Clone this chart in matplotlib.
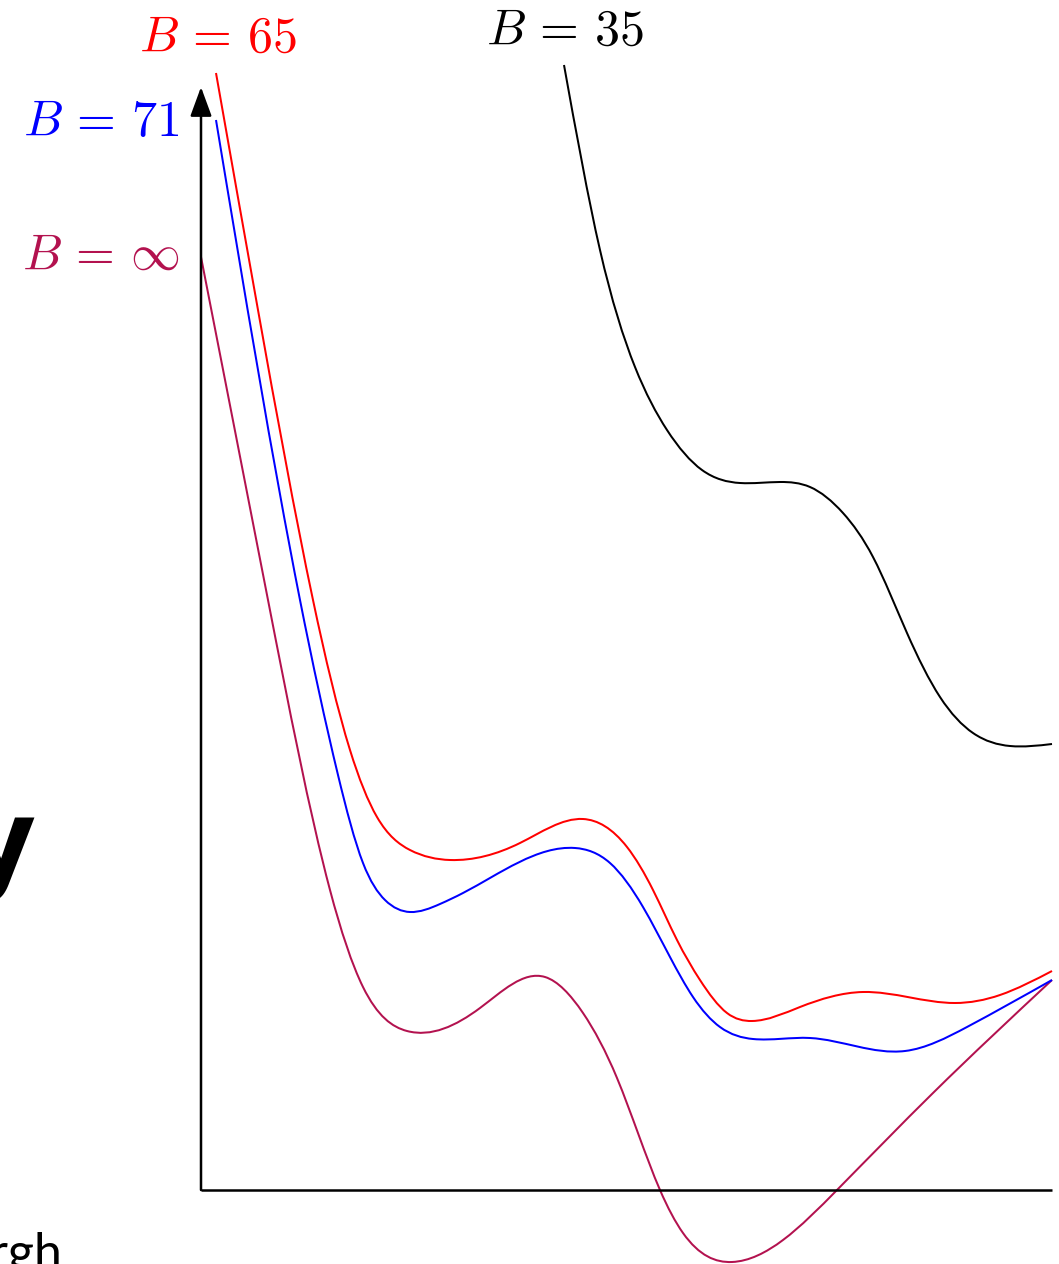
import numpy as np
import matplotlib.pyplot as plt
from matplotlib.path import Path
from matplotlib.patches import PathPatch

plt.rcParams['mathtext.fontset'] = 'cm'

# origin of the sketch axes sits at (201, 1190) on the slide, y grows upward
X0, Y0 = 201, 1190

# curve samples, slide pixel positions (x, y down)
binf_x = [201, 268, 330, 363, 407, 480, 545, 583, 617, 660, 683, 732, 783, 837, 933, 1052]
binf_y = [257, 600, 890, 987, 1031, 1008, 977, 1013, 1078, 1190, 1233, 1262, 1240, 1190, 1093, 980]

b65_x = [216, 258, 313, 350, 377, 410, 450, 520, 583, 627, 653, 677, 700, 727, 752, 800, 863, 955, 1000, 1052]
b65_y = [73, 310, 600, 750, 817, 850, 860, 843, 819, 847, 890, 940, 980, 1013, 1021, 1007, 992, 1003, 995, 971]

b71_x = [216, 300, 338, 363, 385, 410, 440, 463, 575, 610, 643, 670, 693, 720, 753, 810, 905, 967, 1052]
b71_y = [120, 600, 775, 863, 900, 912, 904, 893, 848, 863, 907, 957, 997, 1027, 1039, 1038, 1051, 1027, 980]

b35_x = [564, 600, 635, 667, 702, 740, 780, 810, 843, 873, 907, 940, 973, 1010, 1052]
b35_y = [65, 250, 367, 430, 470, 483, 482, 487, 513, 557, 633, 697, 733, 746, 744]

CRIMSON = '#B3124F'


def spline_slopes(x, y):
    # natural cubic spline, slopes at the knots
    n = len(x)
    h = np.diff(x)
    d = np.diff(y) / h
    A = np.zeros((n, n))
    r = np.zeros(n)
    A[0, 0] = A[-1, -1] = 1.0
    for i in range(1, n - 1):
        A[i, i - 1] = h[i - 1]
        A[i, i] = 2 * (h[i - 1] + h[i])
        A[i, i + 1] = h[i]
        r[i] = 6 * (d[i] - d[i - 1])
    M = np.linalg.solve(A, r)
    m = np.empty(n)
    m[:-1] = d - h * (2 * M[:-1] + M[1:]) / 6
    m[-1] = d[-1] + h[-1] * (M[-2] + 2 * M[-1]) / 6
    return m


def smooth_path(xs, ys):
    x = np.asarray(xs, float) - X0
    y = Y0 - np.asarray(ys, float)
    m = spline_slopes(x, y)
    verts = [(x[0], y[0])]
    codes = [Path.MOVETO]
    for k in range(len(x) - 1):
        h = x[k + 1] - x[k]
        verts += [(x[k] + h / 3, y[k] + m[k] * h / 3),
                  (x[k + 1] - h / 3, y[k + 1] - m[k + 1] * h / 3),
                  (x[k + 1], y[k + 1])]
        codes += [Path.CURVE4] * 3
    return Path(verts, codes)


fig = plt.figure(figsize=(10.59, 12.64), dpi=100)
ax = fig.add_axes([0, 0, 1, 1])
ax.set_xlim(-X0, 1059 - X0)
ax.set_ylim(Y0 - 1264, Y0)
ax.axis('off')

# axes
ax.plot([0, 1052 - X0], [0, 0], color='black', lw=1.8, solid_capstyle='butt')
ax.annotate('', xy=(0, Y0 - 87), xytext=(0, 0),
            arrowprops=dict(arrowstyle='-|>,head_length=0.9,head_width=0.33',
                            lw=1.8, color='black', mutation_scale=20,
                            shrinkA=0, shrinkB=0))

for xs, ys, col in [(binf_x, binf_y, CRIMSON), (b71_x, b71_y, 'blue'),
                    (b65_x, b65_y, 'red'), (b35_x, b35_y, 'black')]:
    ax.add_patch(PathPatch(smooth_path(xs, ys), fill=False, edgecolor=col,
                           lw=1.45, capstyle='butt'))

ax.text(218 - X0, Y0 - 38, r'$B\,=\,65$', color='red', fontsize=36, ha='center', va='center')
ax.text(180 - X0, Y0 - 122, r'$B\,=\,71$', color='blue', fontsize=36, ha='right', va='center')
ax.text(180 - X0, Y0 - 256, r'$B\,=\,\infty$', color=CRIMSON, fontsize=36, ha='right', va='center')
ax.text(565 - X0, Y0 - 31, r'$B\,=\,35$', color='black', fontsize=36, ha='center', va='center')

# bits of the slide around the sketch
ax.text(36 - X0, Y0 - 878, 'y', fontsize=80, fontweight='bold', family='DejaVu Sans',
        ha='right', va='baseline', color='black')
ax.text(62 - X0, Y0 - 1268, 'Edinburgh', fontsize=36, family='Lato',
        ha='right', va='baseline', color='black')

fig.savefig('out.png', dpi=100)
